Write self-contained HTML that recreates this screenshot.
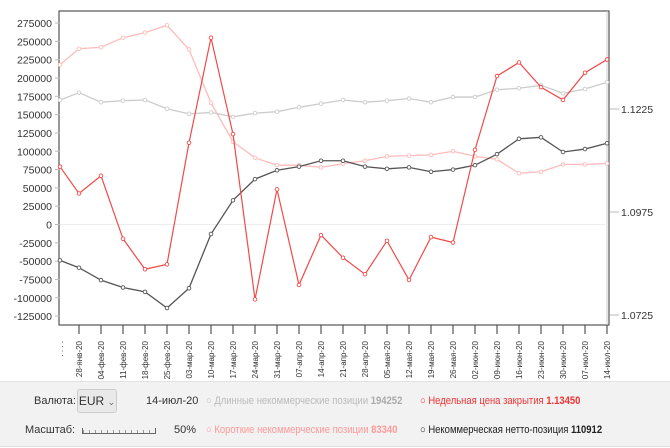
<!DOCTYPE html>
<html><head><meta charset="utf-8">
<style>
body{margin:0;background:#fff;font-family:"Liberation Sans",sans-serif;}
#wrap{position:relative;width:670px;height:448px;overflow:hidden;background:#fff}
#panel{position:absolute;left:0;top:381px;width:670px;height:64px;background:#f2f2f2;border-top:1px solid #e2e2e2;border-bottom:1px solid #ddd;font-size:11px;color:#333}
.t{position:absolute;white-space:nowrap}
.c{transform:scaleX(0.86);transform-origin:0 50%}
</style></head><body>
<div id="wrap">
<svg id="chart" width="670" height="381" style="position:absolute;left:0;top:0"></svg>
<div id="panel">
 <span class="t" style="left:34px;top:13px">Валюта:</span>
 <div class="t" style="left:77px;top:7px;width:38px;height:22px;border:1px solid #ccc;border-radius:3px;background:#e9e9e9;font-size:12px;line-height:22px;text-align:center">EUR <span style="font-size:9px;color:#666">&#8964;</span></div>
 <span class="t" style="left:146px;top:13px">14-июл-20</span>
 <span class="t c" style="left:206px;top:13px;color:#bbb">○ Длинные некоммерческие позиции <b style="color:#aaa">194252</b></span>
 <span class="t c" style="left:420px;top:13px;color:#e33">○ Недельная цена закрытия <b>1.13450</b></span>
 <span class="t" style="left:25px;top:42px">Масштаб:</span>
 <div class="t" style="left:82px;top:46px;width:72px;height:5px;border-bottom:1px solid #666;border-left:1px solid #666;border-right:1px solid #666;background:repeating-linear-gradient(90deg,#999 0 1px,transparent 1px 6px) bottom/100% 3px no-repeat"></div>
 <span class="t" style="left:174px;top:42px">50%</span>
 <span class="t c" style="left:206px;top:42px;color:#f99">○ Короткие некоммерческие позиции <b>83340</b></span>
 <span class="t c" style="left:420px;top:42px;color:#222">○ Некоммерческая нетто-позиция <b>110912</b></span>
</div>
</div>
<script>
const dates=["21-янв-20","28-янв-20","04-фев-20","11-фев-20","18-фев-20","25-фев-20","03-мар-20","10-мар-20","17-мар-20","24-мар-20","31-мар-20","07-апр-20","14-апр-20","21-апр-20","28-апр-20","05-мая-20","12-мая-20","19-мая-20","26-мая-20","02-июн-20","09-июн-20","16-июн-20","23-июн-20","30-июн-20","07-июл-20","14-июл-20"];
const longPos=[170000,180000,167000,169000,170000,158000,151000,153000,147000,152000,154000,160000,165000,170000,167000,169000,172000,167000,174000,174000,184000,186000,190000,179000,185000,194252];
const shortPos=[218000,240000,242000,255000,262000,272000,239000,166000,113000,91000,81000,81000,78000,83000,87000,93000,94000,95000,100000,93000,89000,70000,72000,82000,82000,83340];
const netPos=[-49000,-59000,-76000,-86000,-92000,-114000,-87000,-13000,33000,62000,74000,79000,87000,87000,79000,76000,78000,72000,75000,81000,96000,117000,119000,99000,103000,110912];
const price=[1.1085,1.1020,1.1063,1.0910,1.0836,1.0848,1.1143,1.1398,1.1164,1.0763,1.1030,1.0798,1.0919,1.0864,1.0824,1.0905,1.0810,1.0914,1.0901,1.1126,1.1305,1.1338,1.1278,1.1247,1.1313,1.1345];
const leftTicks=[275000,250000,225000,200000,175000,150000,125000,100000,75000,50000,25000,0,-25000,-50000,-75000,-100000,-125000];
const rightTicks=[1.1225,1.0975,1.0725];
const NS="http://www.w3.org/2000/svg";
const svg=document.getElementById('chart');
const L=60,R=607,T=11,B=325;
const yL=v=>224.5-(v/1000)*0.7325;
const yR=p=>109+(1.1225-p)/0.025*103;
const xI=i=>i===0?L:79+(i-1)*(R-79)/(dates.length-2);
function mk(tag,attrs){const e=document.createElementNS(NS,tag);for(const k in attrs)e.setAttribute(k,attrs[k]);svg.appendChild(e);return e;}
let e=mk('rect',{x:L-1,y:T,width:R-L+3,height:B-T,fill:'#fff',stroke:'#555','stroke-width':1.2});

mk('line',{x1:R,y1:T,x2:R,y2:B,stroke:'#ccc'});
leftTicks.forEach(v=>{const y=yL(v);
 if(v===0){mk('line',{x1:L,y1:y,x2:R,y2:y,stroke:'#eee'});}
 mk('line',{x1:L-5,y1:y,x2:L,y2:y,stroke:'#bbb'});
 const t=mk('text',{x:L-8,y:y+4,'text-anchor':'end','font-size':10.5,fill:'#333'});t.textContent=v;
 });
rightTicks.forEach(p=>{const y=yR(p);
 mk('line',{x1:R+3,y1:y,x2:R+12,y2:y,stroke:'#bbb'});
 const t=mk('text',{x:R+14,y:y+4,'font-size':10.5,fill:'#333'});t.textContent=p.toFixed(4);
 });
dates.forEach((d,i)=>{const x=xI(i);
 if(i>0)mk('line',{x1:x,y1:B,x2:x,y2:B+9,stroke:'#333'});
 const t=mk('text',{x:0,y:0,'text-anchor':'end','font-size':8,fill:'#333',transform:`translate(${x+3},${B+16}) rotate(-90)`});
 t.textContent=i===0?'. . . .':d;
 });
function series(arr,fy,color,name,w){
 const pts=arr.map((v,i)=>xI(i)+','+fy(v)).join(' ');
 const pl=mk('polyline',{points:pts,fill:'none',stroke:color,'stroke-width':w});
 
 arr.forEach((v,i)=>{const c=mk('circle',{cx:xI(i),cy:fy(v),r:1.8,fill:'#fff',stroke:color,'stroke-width':0.9});
  });
}
series(shortPos,yL,'#fbb','short-positions',1.3);
series(longPos,yL,'#ccc','long-positions',1.3);
series(netPos,yL,'#555','net-position',1.3);
series(price,yR,'#f04a4a','weekly-close-price',1.2);
</script>
</body></html>
